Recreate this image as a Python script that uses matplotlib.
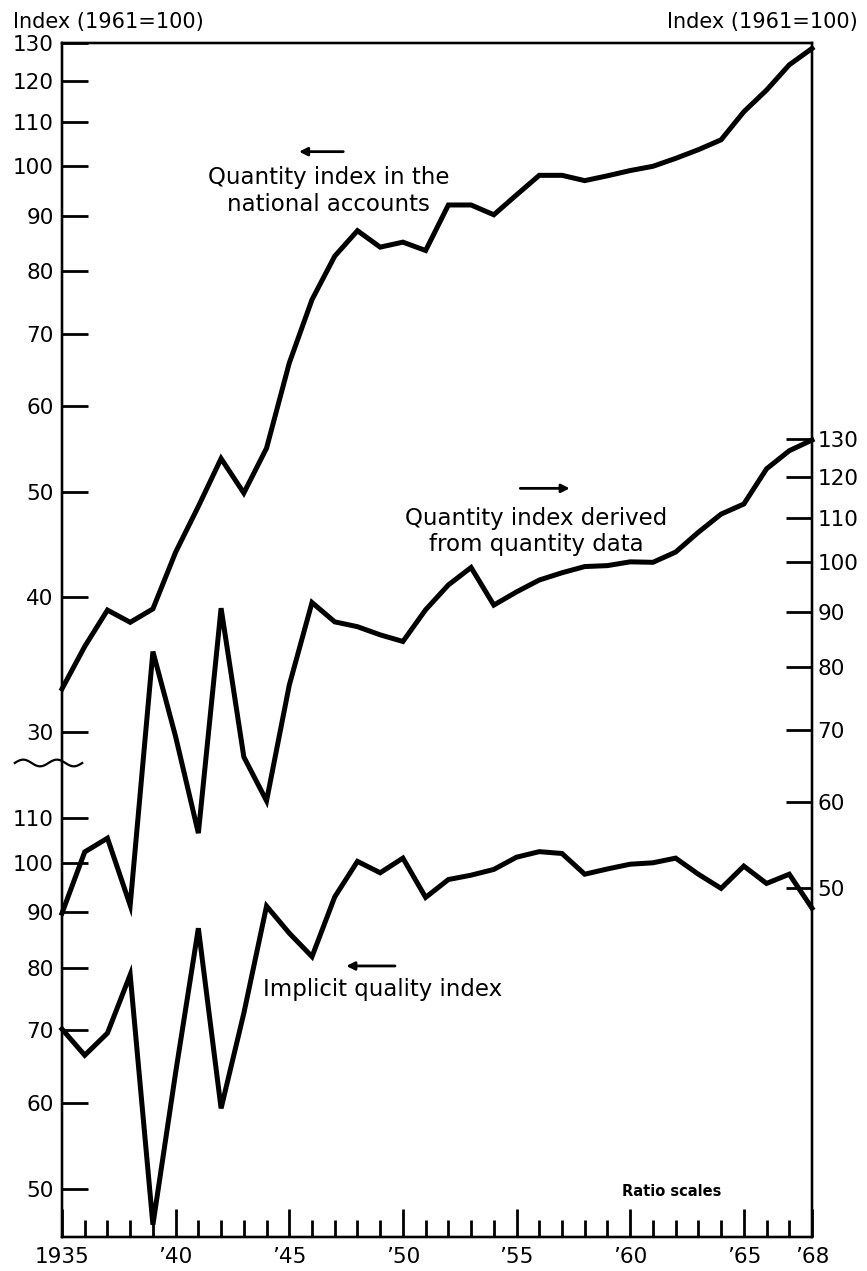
import numpy as np
import matplotlib
matplotlib.use("Agg")
import matplotlib.pyplot as plt

years = np.arange(1935, 1969)

# quantity index in the national accounts (left, upper scale)
national_accounts = [32.9, 36.0, 38.9, 37.9, 39.0, 44.0, 48.5, 53.7, 49.9, 54.9,
                     65.8, 75.3, 82.6, 87.2, 84.2, 85.1, 83.6, 92.1, 92.1, 90.2,
                     94.1, 98.1, 98.1, 97.0, 98.0, 99.1, 100.0, 101.7, 103.6, 105.8,
                     112.3, 117.6, 124.1, 128.5]

# quantity index derived from quantity data (right scale)
quantity_data = [47.4, 54.0, 55.6, 48.2, 82.7, 69.0, 56.2, 90.7, 66.1, 60.2,
                 77.0, 91.8, 88.1, 87.2, 85.7, 84.5, 90.4, 95.3, 98.9, 91.3,
                 93.9, 96.3, 97.8, 99.1, 99.3, 100.1, 100.0, 102.2, 106.6, 110.8,
                 113.2, 122.0, 126.8, 129.7]

# implicit quality index (left, lower scale)
quality_index = [70.2, 66.4, 69.6, 78.8, 46.3, 64.0, 87.0, 59.3, 72.6, 91.2,
                 86.1, 81.9, 93.0, 100.3, 97.9, 101.0, 92.9, 96.5, 97.4, 98.6,
                 101.2, 102.4, 102.0, 97.6, 98.7, 99.7, 100.0, 101.0, 97.6, 94.7,
                 99.3, 95.7, 97.6, 90.8]

upper_ticks = [30, 40, 50, 60, 70, 80, 90, 100, 110, 120, 130]
lower_ticks = [50, 60, 70, 80, 90, 100, 110]
right_ticks = [50, 60, 70, 80, 90, 100, 110, 120, 130]
year_ticks = [1935, 1940, 1945, 1950, 1955, 1960, 1965, 1968]
year_labels = ["1935", "\u201940", "\u201945", "\u201950", "\u201955",
               "\u201960", "\u201965", "\u201968"]

W, H = 867, 1271
left, right, top, bottom = 62, 812, 43, 1237
px_per_e = 470.0  # all three ratio scales share the same spacing

fig = plt.figure(figsize=(W / 100, H / 100), dpi=100)
ax = fig.add_axes([left / W, 1 - bottom / H, (right - left) / W, (bottom - top) / H])
ax_low = ax.twinx()
ax_r = ax.twinx()

span = np.exp((bottom - top) / px_per_e)


def log_limits(value, y_px):
    hi = value * np.exp((y_px - top) / px_per_e)
    return hi / span, hi


tick_kw = dict(direction="in", length=19, width=2, labelsize=15.5, pad=6)

for a, ticks, anchor, side in [(ax, upper_ticks, (130, 43), "left"),
                               (ax_low, lower_ticks, (110, 818), "left"),
                               (ax_r, right_ticks, (130, 439), "right")]:
    a.set_yscale("log")
    a.set_ylim(*log_limits(*anchor))
    a.set_yticks(ticks, labels=[str(t) for t in ticks])
    a.set_yticks([], minor=True)
    a.tick_params(axis="y", which="both", left=(side == "left"), labelleft=(side == "left"),
                  right=(side == "right"), labelright=(side == "right"), **tick_kw)
    for s in a.spines.values():
        s.set_linewidth(1.6)

ax_r.tick_params(axis="y", pad=4)

ax.set_xlim(1935, 1968)
ax.set_xticks(year_ticks, labels=year_labels)
ax.set_xticks(years, minor=True)
ax.tick_params(axis="x", which="major", direction="in", length=20, width=2,
               labelsize=15.5, pad=7, top=False)
ax.tick_params(axis="x", which="minor", direction="in", length=12, width=2, top=False)

line_kw = dict(color="black", lw=3.6, solid_joinstyle="miter", clip_on=False)
ax.plot(years, national_accounts, **line_kw)
ax_r.plot(years, quantity_data, **line_kw)
ax_low.plot(years, quality_index, **line_kw)

# series labels with direction arrows pointing to their scale
text_kw = dict(transform=ax.transAxes, ha="center", va="center", fontsize=16.5,
               linespacing=1.2)
ax.text(0.355, 0.876, "Quantity index in the\nnational accounts", **text_kw)
ax.text(0.632, 0.591, "Quantity index derived\nfrom quantity data", **text_kw)
ax.text(0.427, 0.207, "Implicit quality index", **text_kw)
ax.text(0.813, 0.038, "Ratio scales", transform=ax.transAxes, ha="center",
        va="center", fontsize=10.5, fontweight="bold")

arrow_kw = dict(arrowstyle="-|>", color="black", lw=2, mutation_scale=12,
                shrinkA=0, shrinkB=0)
for tail, head in [((0.375, 0.909), (0.316, 0.909)),
                   ((0.611, 0.627), (0.677, 0.627)),
                   ((0.444, 0.227), (0.379, 0.227))]:
    ax.annotate("", xy=head, xytext=tail, xycoords="axes fraction",
                textcoords="axes fraction", arrowprops=arrow_kw)

# break mark on the left scale between the two panels
t = np.linspace(0, 1, 80)
ax.plot(-0.063 + 0.09 * t, 0.397 + 0.0028 * np.sin(4 * np.pi * t),
        transform=ax.transAxes, clip_on=False, color="black", lw=1.6)

fig.text(13 / W, 1 - 22 / H, "Index (1961=100)", ha="left", va="center", fontsize=15)
fig.text(858 / W, 1 - 22 / H, "Index (1961=100)", ha="right", va="center", fontsize=15)

fig.savefig("out.png", dpi=100)
